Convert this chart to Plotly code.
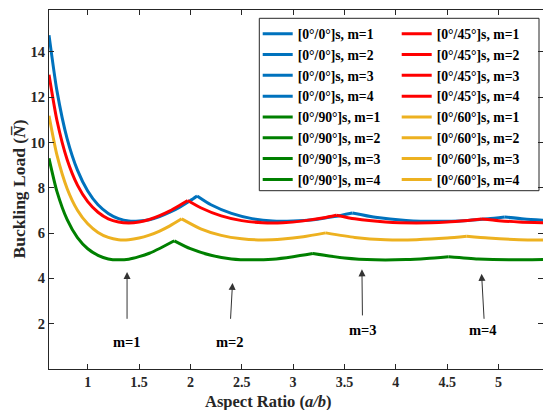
import plotly.graph_objects as go

# ---------------- data ----------------
# [0°/0°]s
x00_m1 = [0.623, 0.7, 0.8, 0.9, 1.0, 1.1, 1.2, 1.3, 1.4, 1.5, 1.6, 1.7, 1.8, 1.9, 2.0, 2.065]
y00_m1 = [14.74, 12.29, 10.16, 8.78, 7.86, 7.25, 6.87, 6.64, 6.53, 6.53, 6.59, 6.73, 6.92, 7.16, 7.44, 7.64]
x00_m2 = [2.065, 2.2, 2.4, 2.6, 2.8, 3.0, 3.2, 3.4, 3.577]
y00_m2 = [7.64, 7.25, 6.87, 6.64, 6.53, 6.53, 6.59, 6.73, 6.89]
x00_m3 = [3.577, 3.8, 4.1, 4.4, 4.7, 4.9, 5.06]
y00_m3 = [6.89, 6.70, 6.56, 6.52, 6.56, 6.63, 6.71]
x00_m4 = [5.06, 5.25, 5.5]
y00_m4 = [6.71, 6.62, 6.55]

# [0°/90°]s
x90_m1 = [0.623, 0.7, 0.8, 0.9, 1.0, 1.1, 1.2, 1.3, 1.4, 1.5, 1.6, 1.7, 1.843]
y90_m1 = [9.30, 7.84, 6.59, 5.80, 5.31, 5.02, 4.86, 4.82, 4.85, 4.96, 5.11, 5.32, 5.66]
x90_m2 = [1.843, 2.0, 2.2, 2.4, 2.6, 2.8, 3.0, 3.192]
y90_m2 = [5.66, 5.31, 5.02, 4.86, 4.82, 4.85, 4.96, 5.10]
x90_m3 = [3.192, 3.5, 3.8, 4.1, 4.3, 4.514]
y90_m3 = [5.10, 4.90, 4.82, 4.83, 4.88, 4.96]
x90_m4 = [4.514, 4.8, 5.1, 5.5]
y90_m4 = [4.96, 4.86, 4.82, 4.84]

# [0°/45°]s
x45_m1 = [0.623, 0.7, 0.8, 0.9, 1.0, 1.1, 1.2, 1.3, 1.4, 1.5, 1.6, 1.7, 1.8, 1.9, 1.974]
y45_m1 = [12.99, 10.98, 9.24, 8.12, 7.39, 6.92, 6.63, 6.49, 6.45, 6.49, 6.60, 6.77, 6.98, 7.24, 7.44]
x45_m2 = [1.974, 2.1, 2.3, 2.5, 2.7, 2.9, 3.1, 3.3, 3.42]
y45_m2 = [7.44, 7.12, 6.76, 6.55, 6.46, 6.46, 6.54, 6.68, 6.79]
x45_m3 = [3.42, 3.6, 3.9, 4.2, 4.5, 4.7, 4.836]
y45_m3 = [6.79, 6.63, 6.49, 6.45, 6.49, 6.56, 6.62]
x45_m4 = [4.836, 5.0, 5.2, 5.5]
y45_m4 = [6.62, 6.55, 6.49, 6.45]

# [0°/60°]s
x60_m1 = [0.623, 0.7, 0.8, 0.9, 1.0, 1.1, 1.2, 1.3, 1.4, 1.5, 1.6, 1.7, 1.8, 1.915]
y60_m1 = [11.18, 9.45, 7.96, 7.01, 6.41, 6.03, 5.81, 5.71, 5.71, 5.78, 5.91, 6.09, 6.32, 6.63]
x60_m2 = [1.915, 2.1, 2.3, 2.5, 2.7, 2.9, 3.1, 3.317]
y60_m2 = [6.63, 6.19, 5.90, 5.75, 5.70, 5.74, 5.84, 6.01]
x60_m3 = [3.317, 3.6, 3.9, 4.2, 4.5, 4.69]
y60_m3 = [6.01, 5.81, 5.71, 5.71, 5.78, 5.86]
x60_m4 = [4.69, 4.9, 5.2, 5.5]
y60_m4 = [5.86, 5.78, 5.71, 5.70]

x_ticks = [1, 1.5, 2, 2.5, 3, 3.5, 4, 4.5, 5]
x_tick_labels = ["1", "1.5", "2", "2.5", "3", "3.5", "4", "4.5", "5"]
y_ticks = [2, 4, 6, 8, 10, 12, 14]
y_tick_labels = ["2", "4", "6", "8", "10", "12", "14"]

mode_labels = ["m=1", "m=2", "m=3", "m=4"]
mode_label_x = [1.383, 2.386, 3.68, 4.85]
mode_label_y = [1.20, 1.20, 1.73, 1.73]
arrow_head_x = [1.383, 2.41, 3.67, 4.835]
arrow_head_y = [4.28, 3.80, 4.40, 4.20]
arrow_tail_x = [1.383, 2.39, 3.675, 4.86]
arrow_tail_y = [2.15, 2.15, 2.30, 2.15]

# ---------------- figure ----------------
FONT = "Liberation Serif"
BLUE = "#0072BD"
RED = "#FF0000"
GREEN = "#008000"
YELLOW = "#EDB120"

series = [
    ("[0°/0°]s", BLUE, [(x00_m1, y00_m1), (x00_m2, y00_m2), (x00_m3, y00_m3), (x00_m4, y00_m4)], "legend"),
    ("[0°/90°]s", GREEN, [(x90_m1, y90_m1), (x90_m2, y90_m2), (x90_m3, y90_m3), (x90_m4, y90_m4)], "legend"),
    ("[0°/45°]s", RED, [(x45_m1, y45_m1), (x45_m2, y45_m2), (x45_m3, y45_m3), (x45_m4, y45_m4)], "legend2"),
    ("[0°/60°]s", YELLOW, [(x60_m1, y60_m1), (x60_m2, y60_m2), (x60_m3, y60_m3), (x60_m4, y60_m4)], "legend2"),
]

fig = go.Figure()
for name, color, segs, leg in series:
    for i, (xs, ys) in enumerate(segs):
        fig.add_trace(go.Scatter(
            x=xs, y=ys, mode="lines",
            line=dict(color=color, width=3, shape="spline", smoothing=0.6),
            name=f"{name}, m={i + 1}", legend=leg,
        ))

# plot-area geometry in pixels
W, H = 543, 410
ML, MR, MT, MB = 49, 0, 10, 41
PW, PH = W - ML - MR, H - MT - MB


def px_x(p):
    return (p - ML) / PW


def px_y(p):
    return 1 - (p - MT) / PH


axis_color = "#262626"
tick_font = dict(family=FONT, size=14, color=axis_color, weight="bold")
leg_font = dict(family=FONT, size=13.7, color="black", weight="bold")

fig.update_layout(
    width=W, height=H,
    margin=dict(l=ML, r=MR, t=MT, b=MB),
    paper_bgcolor="white", plot_bgcolor="white",
    font=dict(family=FONT, color=axis_color),
    xaxis=dict(range=[0.623, 5.433], tickvals=x_ticks, ticktext=x_tick_labels,
               ticks="inside", ticklen=5, tickcolor=axis_color, showline=True,
               linecolor=axis_color, linewidth=1, mirror="ticks", showgrid=False,
               zeroline=False, tickfont=tick_font),
    yaxis=dict(range=[0, 15.85], tickvals=y_ticks, ticktext=y_tick_labels,
               ticks="inside", ticklen=5, tickcolor=axis_color, showline=True,
               linecolor=axis_color, linewidth=1, mirror="ticks", showgrid=False,
               zeroline=False, tickfont=dict(family=FONT, size=14.5, color=axis_color, weight="bold")),
    legend=dict(x=px_x(257.7), y=px_y(18.3), xanchor="left", yanchor="top",
                bgcolor="rgba(0,0,0,0)", borderwidth=0, itemwidth=30,
                font=leg_font, tracegroupgap=0),
    legend2=dict(x=px_x(396.7), y=px_y(18.3), xanchor="left", yanchor="top",
                 bgcolor="rgba(0,0,0,0)", borderwidth=0, itemwidth=30,
                 font=leg_font, tracegroupgap=0),
    showlegend=True,
)

# legend frame
fig.add_shape(type="rect", xref="paper", yref="paper",
              x0=px_x(259.3), x1=px_x(539), y0=px_y(190.7), y1=px_y(18.3),
              line=dict(color=axis_color, width=1), fillcolor="white", layer="below")

# arrows and mode labels
for lab, lx, ly, hx, hy, tx, ty in zip(mode_labels, mode_label_x, mode_label_y,
                                        arrow_head_x, arrow_head_y, arrow_tail_x, arrow_tail_y):
    fig.add_annotation(x=hx, y=hy, ax=tx, ay=ty, xref="x", yref="y", axref="x", ayref="y",
                       text="", showarrow=True, arrowhead=2, arrowsize=1.4, arrowwidth=1,
                       arrowcolor="#333333")
    fig.add_annotation(x=lx, y=ly, xref="x", yref="y", text=lab, showarrow=False,
                       xanchor="center", yanchor="middle",
                       font=dict(family=FONT, size=14.5, color="black", weight="bold"))

# axis titles
fig.add_annotation(x=px_x(268), y=px_y(401), xref="paper", yref="paper",
                   xanchor="center", yanchor="middle",
                   text="Aspect Ratio (<i>a/b</i>)", showarrow=False,
                   font=dict(family=FONT, size=16.5, color=axis_color, weight="bold"))
fig.add_annotation(x=px_x(18), y=0.5, xref="paper", yref="paper", textangle=-90,
                   xanchor="center", yanchor="middle",
                   text="Buckling Load (<i>N\u0305</i>)", showarrow=False,
                   font=dict(family=FONT, size=17.5, color=axis_color, weight="bold"))

fig.write_html("out.html")
